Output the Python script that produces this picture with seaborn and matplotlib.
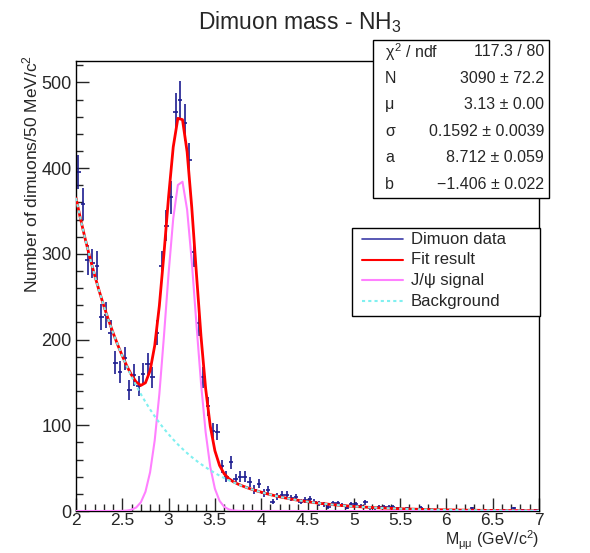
import numpy as np
import pandas as pd
import seaborn as sns
import matplotlib
matplotlib.use("Agg")
import matplotlib.pyplot as plt
from matplotlib.patches import Rectangle
from matplotlib.ticker import MultipleLocator

# 히스토그램 데이터 (bin 폭 50 MeV, 2~7 GeV)
mass = np.round(np.arange(2.025, 7.0, 0.05), 3)
counts = [396, 358, 293, 289, 286, 226, 229, 208, 173, 162,
          178, 141, 159, 146, 160, 171, 156, 208, 286, 333,
          366, 466, 480, 453, 409, 302, 219, 156, 122, 93,
          92, 52, 40, 57, 37, 40, 40, 34, 25, 32,
          21, 24, 11, 17, 19, 19, 15, 16, 11, 13,
          14, 11, 9, 8, 5, 9, 9, 7, 4, 8,
          8, 6, 10, 3, 3, 5, 5, 5, 5, 3,
          2, 3, 2, 1, 4, 1, 2, 1, 0, 1,
          1, 0, 1, 0, 1, 3, 0, 1, 0, 1,
          0, 0, 1, 0, 3, 0, 1, 0, 0, 1]

# 피팅 결과 (stats box 값)
fit_N, fit_mu, fit_sigma = 3090.0, 3.13, 0.1592
fit_a, fit_b = 8.712, -1.406
bin_width = 0.05

stat_names = [r"$\chi^2$ / ndf", "N", "μ", "σ", "a", "b"]
stat_values = ["117.3 / 80", "3090 ± 72.2", "3.13 ± 0.00",
               "0.1592 ± 0.0039", "8.712 ± 0.059", "−1.406 ± 0.022"]
legend_labels = ["Dimuon data", "Fit result", "J/ψ signal", "Background"]

sns.set_style("ticks")
plt.rcParams['font.family'] = ['Liberation Sans', 'DejaVu Sans']
plt.rcParams['mathtext.fontset'] = 'custom'
plt.rcParams['mathtext.rm'] = 'Liberation Sans'
plt.rcParams['mathtext.it'] = 'Liberation Sans'

W, H = 590, 553
def fx(px):
    return px / W
def fy(py):
    return 1 - py / H

fig = plt.figure(figsize=(5.9, 5.53), dpi=100)
ax = fig.add_axes([fx(76), fy(511), fx(539) - fx(76), fy(61) - fy(511)])

# 피팅 곡선
x_fit = np.linspace(2, 7, 101)
signal = fit_N * bin_width / (fit_sigma * np.sqrt(2 * np.pi)) * np.exp(-0.5 * ((x_fit - fit_mu) / fit_sigma) ** 2)
background = np.exp(fit_a + fit_b * x_fit)
curves = pd.DataFrame({'x': x_fit, 'total': signal + background,
                       'signal': signal, 'background': background})

data = pd.DataFrame({'mass': mass, 'counts': counts})
data = data[data['counts'] > 0]
ax.errorbar(data['mass'], data['counts'], yerr=np.sqrt(data['counts']), xerr=0.025,
            fmt='none', ecolor='#1c1c90', elinewidth=1.2, capsize=0, zorder=2)

col_fit, col_sig, col_bg = '#ff0000', '#ff80ff', '#80f0f0'
sns.lineplot(data=curves, x='x', y='total', ax=ax, color=col_fit, lw=2, zorder=3)
sns.lineplot(data=curves, x='x', y='signal', ax=ax, color=col_sig, lw=1.5, zorder=4)
sns.lineplot(data=curves, x='x', y='background', ax=ax, color=col_bg, lw=1.5,
             linestyle=(0, (1.5, 1.5)), zorder=4)

ax.set_xlim(2, 7)
ax.set_ylim(0, 525)
ax.set_xlabel('')
ax.set_ylabel('')
ax.xaxis.set_minor_locator(MultipleLocator(0.1))
ax.yaxis.set_major_locator(MultipleLocator(100))
ax.yaxis.set_minor_locator(MultipleLocator(20))
ax.set_xticks(np.arange(2, 7.01, 0.5))
ax.set_xticklabels(['2', '2.5', '3', '3.5', '4', '4.5', '5', '5.5', '6', '6.5', '7'])
ax.tick_params(which='major', direction='in', length=9.5, width=1, labelsize=13, pad=3,
               top=False, right=False)
ax.tick_params(axis='x', which='major', labelsize=12.5, pad=1.5)
ax.tick_params(which='minor', direction='in', length=5, width=1, top=False, right=False)
for s in ax.spines.values():
    s.set_visible(True)
    s.set_linewidth(1)
    s.set_color('black')

# 제목과 축 이름
fig.text(fx(300), fy(22), r"Dimuon mass - NH$_3$", ha='center', va='center', fontsize=16.5)
fig.text(fx(30), fy(55), r"Number of dimuons/50 MeV/c$^2$", rotation=90,
         ha='center', va='top', fontsize=12.5)
fig.text(fx(539), fy(552.5), r"M$_{\mu\mu}$ (GeV/c$^2$)", ha='right', va='bottom', fontsize=11.5)

# stats box
fig.patches.append(Rectangle((fx(374), fy(199)), fx(549) - fx(373), fy(40) - fy(198),
                             transform=fig.transFigure, fc='#333333', ec='none', zorder=9))
fig.patches.append(Rectangle((fx(373), fy(198)), fx(549) - fx(373), fy(40) - fy(198),
                             transform=fig.transFigure, fc='white', ec='black', lw=1, zorder=10))
for i, (name, val) in enumerate(zip(stat_names, stat_values)):
    yy = fy(52 + i * 26.4)
    fig.text(fx(385), yy, name, ha='left', va='center', fontsize=11.5, zorder=11)
    fig.text(fx(544), yy, val, ha='right', va='center', fontsize=11.5, zorder=11)

# legend
fig.patches.append(Rectangle((fx(353), fy(317)), fx(540) - fx(352), fy(228) - fy(316),
                             transform=fig.transFigure, fc='#333333', ec='none', zorder=9))
fig.patches.append(Rectangle((fx(352), fy(316)), fx(540) - fx(352), fy(228) - fy(316),
                             transform=fig.transFigure, fc='white', ec='black', lw=1, zorder=10))
leg_styles = [('#3c3ca8', '-', 1.2), (col_fit, '-', 1.5), (col_sig, '-', 1.5),
              (col_bg, (0, (1.5, 1.5)), 1.5)]
for i, (lab, (c, ls, lw)) in enumerate(zip(legend_labels, leg_styles)):
    yy = fy(239 + i * 20.7)
    fig.add_artist(plt.Line2D([fx(362), fx(403)], [yy, yy], color=c, linestyle=ls, lw=lw,
                              transform=fig.transFigure, zorder=11))
    fig.text(fx(411), yy, lab, ha='left', va='center', fontsize=12, zorder=11)

fig.savefig('out.png', dpi=100)
